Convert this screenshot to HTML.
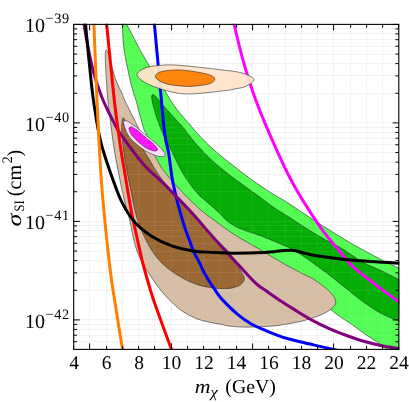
<!DOCTYPE html>
<html><head><meta charset="utf-8"><title>plot</title>
<style>
html,body{margin:0;padding:0;background:#fff;}
body{width:409px;height:402px;overflow:hidden;}
svg{display:block;will-change:transform;}
svg text{font-family:"Liberation Serif",serif;fill:#000;text-rendering:geometricPrecision;}
</style></head><body>
<svg width="409" height="402" viewBox="0 0 409 402">
<rect width="409" height="402" fill="#fff"/>
<defs><clipPath id="c"><rect x="73.2" y="23.7" width="326.1" height="326.3"/></clipPath></defs>
<path d="M89.50,24.4 V349.4 M106.50,24.4 V349.4 M122.50,24.4 V349.4 M138.50,24.4 V349.4 M154.50,24.4 V349.4 M171.50,24.4 V349.4 M187.50,24.4 V349.4 M203.50,24.4 V349.4 M219.50,24.4 V349.4 M236.50,24.4 V349.4 M252.50,24.4 V349.4 M268.50,24.4 V349.4 M285.50,24.4 V349.4 M301.50,24.4 V349.4 M317.50,24.4 V349.4 M333.50,24.4 V349.4 M350.50,24.4 V349.4 M366.50,24.4 V349.4 M382.50,24.4 V349.4 M73.7,93.50 H398.8 M73.7,75.50 H398.8 M73.7,63.50 H398.8 M73.7,54.50 H398.8 M73.7,46.50 H398.8 M73.7,39.50 H398.8 M73.7,33.50 H398.8 M73.7,28.50 H398.8 M73.7,122.50 H398.8 M73.7,191.50 H398.8 M73.7,174.50 H398.8 M73.7,162.50 H398.8 M73.7,152.50 H398.8 M73.7,144.50 H398.8 M73.7,138.50 H398.8 M73.7,132.50 H398.8 M73.7,127.50 H398.8 M73.7,221.50 H398.8 M73.7,290.50 H398.8 M73.7,272.50 H398.8 M73.7,260.50 H398.8 M73.7,251.50 H398.8 M73.7,243.50 H398.8 M73.7,236.50 H398.8 M73.7,230.50 H398.8 M73.7,225.50 H398.8 M73.7,319.50 H398.8 M73.7,341.50 H398.8 M73.7,335.50 H398.8 M73.7,329.50 H398.8 M73.7,324.50 H398.8" stroke="#f1f1f1" stroke-width="1" fill="none"/>
<g clip-path="url(#c)">
<path d="M121.8,15.2C122.5,15.2 125.0,21.3 126.7,24.6C128.5,27.9 130.5,31.5 132.3,34.9C134.1,38.3 135.4,41.4 137.3,44.9C139.2,48.4 141.5,52.7 143.5,56.1C145.5,59.5 146.7,61.5 149.1,65.4C151.5,69.3 155.1,74.9 158.0,79.6C160.9,84.3 164.5,90.1 166.7,93.7C168.9,97.3 169.3,98.5 171.1,101.2C172.9,103.9 175.2,107.2 177.3,109.9C179.4,112.6 181.4,114.8 183.5,117.3C185.6,119.8 187.7,122.1 190.0,124.8C192.3,127.5 194.1,129.9 197.4,133.5C200.7,137.1 205.8,142.4 209.9,146.3C214.1,150.2 218.1,153.6 222.3,157.0C226.5,160.4 231.7,164.4 235.0,167.0C238.3,169.6 239.1,170.3 242.4,172.8C245.7,175.3 250.8,179.1 254.9,182.0C259.1,184.9 263.1,187.7 267.3,190.4C271.5,193.1 276.6,196.2 280.0,198.2C283.4,200.2 281.1,198.5 287.4,202.6C293.7,206.7 307.5,216.1 318.0,222.8C328.5,229.5 341.0,237.3 350.6,243.0C360.2,248.7 369.5,253.4 375.9,256.8C382.3,260.2 384.9,261.5 388.8,263.4C392.7,265.3 395.5,266.5 399.0,268.3C402.5,270.1 408.2,257.7 410.0,274.0C411.8,290.3 411.7,350.7 410.0,366.0C408.3,381.3 402.7,367.7 400.0,366.0C397.3,364.3 396.2,358.8 394.0,356.0C391.8,353.2 389.4,351.4 386.5,349.0C383.6,346.6 380.6,344.4 376.9,341.8C373.2,339.2 368.5,336.6 364.4,333.7C360.2,330.8 355.8,327.3 352.0,324.6C348.2,321.9 344.7,320.0 341.4,317.6C338.1,315.2 335.2,313.4 332.0,310.5C328.8,307.6 326.3,304.2 322.0,300.0C317.7,295.8 311.3,289.6 306.0,285.0C300.7,280.4 295.5,276.3 290.0,272.5C284.5,268.7 279.1,265.8 272.8,262.0C266.5,258.2 259.2,254.0 252.4,250.0C245.6,246.0 238.9,242.3 232.0,238.0C225.1,233.7 218.1,229.3 211.2,224.0C204.3,218.7 197.1,211.9 190.8,206.0C184.5,200.1 178.3,194.3 173.5,188.5C168.7,182.7 165.6,177.1 162.0,171.0C158.4,164.9 154.6,158.2 152.0,152.0C149.4,145.8 147.8,137.9 146.4,134.0C145.0,130.1 145.4,134.4 143.7,128.7C141.9,123.0 137.5,105.6 135.9,100.0C134.3,94.4 135.0,98.2 134.1,95.0C133.2,91.8 131.3,85.3 130.3,81.1C129.3,76.9 128.6,72.9 128.0,70.0C127.4,67.1 127.1,66.7 126.5,63.5C125.9,60.4 124.9,55.2 124.3,51.1C123.7,47.0 123.3,43.1 123.0,38.7C122.7,34.3 122.6,28.5 122.4,24.6C122.2,20.7 121.1,15.2 121.8,15.2Z" fill="#54fd54" fill-opacity="1" stroke="#2a2a2a" stroke-width="0.6" stroke-linejoin="round"/>
<path d="M152.4,94.6C152.9,94.1 153.9,94.7 154.9,95.6C155.9,96.5 157.0,97.9 158.7,99.9C160.4,101.9 162.8,105.0 164.9,107.4C167.0,109.8 169.0,111.9 171.1,114.2C173.2,116.5 175.2,118.8 177.3,121.1C179.4,123.4 181.6,125.6 183.5,127.9C185.4,130.2 186.5,132.1 188.8,135.0C191.1,137.9 193.9,141.6 197.4,145.5C200.9,149.4 206.0,154.6 209.9,158.4C213.8,162.2 217.8,165.5 221.1,168.3C224.4,171.1 226.4,172.6 230.0,175.3C233.6,178.0 238.2,181.4 242.4,184.5C246.6,187.6 250.8,190.6 254.9,193.6C259.1,196.6 263.7,200.1 267.3,202.7C270.9,205.3 273.2,207.2 276.6,209.4C280.0,211.6 283.5,213.5 287.4,216.0C291.3,218.5 295.8,221.6 299.9,224.3C304.0,227.0 308.1,229.6 312.3,232.1C316.5,234.6 320.3,237.0 325.0,239.6C329.7,242.2 336.2,245.2 340.4,247.6C344.6,250.0 346.2,251.4 350.0,253.8C353.8,256.2 357.5,259.4 362.9,262.3C368.3,265.2 376.3,268.3 382.3,271.2C388.3,274.1 394.4,277.3 399.0,279.6C403.6,281.9 408.2,276.9 410.0,285.0C411.8,293.1 411.8,321.9 410.0,328.0C408.2,334.1 402.4,323.1 399.0,321.3C395.6,319.5 393.0,319.0 389.3,317.3C385.6,315.6 381.2,313.6 376.9,311.0C372.5,308.4 368.5,305.7 363.2,301.8C357.9,297.9 350.4,291.8 344.8,287.4C339.2,283.0 334.8,279.1 329.9,275.4C325.0,271.7 319.8,268.0 315.7,265.0C311.6,262.0 308.9,259.9 305.0,257.3C301.1,254.7 296.5,251.4 292.3,249.2C288.1,246.9 284.0,245.6 279.9,243.8C275.8,242.0 271.5,240.2 267.4,238.5C263.2,236.8 259.6,235.5 255.0,233.8C250.4,232.2 244.5,230.7 239.9,228.6C235.3,226.5 230.7,223.7 227.4,221.2C224.1,218.7 222.3,215.8 220.0,213.6C217.7,211.4 216.0,209.8 213.8,207.9C211.6,206.0 209.2,203.9 206.9,201.9C204.6,199.9 202.2,198.2 199.9,195.9C197.6,193.6 195.0,190.6 192.9,188.0C190.8,185.4 189.3,182.9 187.5,180.3C185.7,177.7 184.4,176.1 182.3,172.3C180.2,168.6 176.8,161.6 174.9,157.8C173.0,154.0 172.1,152.1 170.8,149.5C169.5,146.9 168.2,144.4 167.0,142.0C165.8,139.6 164.5,136.8 163.6,135.0C162.7,133.2 162.8,133.5 161.8,131.0C160.8,128.5 158.8,123.7 157.4,119.8C156.1,115.9 154.6,111.0 153.7,107.4C152.8,103.9 152.0,100.6 151.8,98.5C151.6,96.4 151.9,95.1 152.4,94.6Z" fill="#04ae04" fill-opacity="1" stroke="#2a2a2a" stroke-width="0.6" stroke-linejoin="round"/>
<path d="M105.7,50.6C105.3,51.6 105.3,54.2 105.3,57.4C105.3,60.6 105.6,65.8 105.8,70.0C106.0,74.2 106.3,78.1 106.6,82.3C106.9,86.5 107.0,90.4 107.4,95.0C107.8,99.6 108.3,104.2 109.0,110.0C109.7,115.8 110.6,123.3 111.5,130.0C112.4,136.7 113.2,143.3 114.3,150.0C115.4,156.7 116.8,163.6 118.0,170.0C119.2,176.4 120.5,182.5 121.8,188.7C123.1,194.9 124.9,202.6 126.1,207.3C127.3,212.0 128.2,213.7 129.0,217.0C129.8,220.3 130.4,223.6 131.2,227.4C132.0,231.2 132.8,236.0 133.8,239.9C134.8,243.8 135.8,247.7 137.0,251.0C138.2,254.3 139.4,257.2 140.8,260.0C142.2,262.8 143.8,265.3 145.3,267.8C146.8,270.3 148.2,272.2 150.0,274.9C151.8,277.6 154.1,281.3 156.2,284.2C158.3,287.1 160.3,289.8 162.4,292.3C164.5,294.8 166.4,296.9 168.7,299.2C171.0,301.5 173.9,304.2 176.2,306.2C178.5,308.2 179.3,309.2 182.4,311.2C185.5,313.2 190.8,316.2 194.9,318.0C199.1,319.8 203.1,320.7 207.3,321.7C211.5,322.7 216.3,323.5 220.0,324.2C223.7,324.9 225.6,325.6 229.7,326.1C233.8,326.6 239.4,327.0 244.3,327.1C249.2,327.2 253.9,327.0 259.0,326.8C264.1,326.6 270.3,326.3 275.0,325.8C279.7,325.3 282.2,324.9 287.1,324.0C292.0,323.1 298.5,322.1 304.2,320.5C309.9,318.9 316.7,316.7 321.3,314.7C325.9,312.7 329.2,310.8 331.6,308.6C334.0,306.4 336.1,304.4 335.8,301.6C335.5,298.8 333.4,295.5 329.9,291.9C326.4,288.3 319.0,282.8 314.9,280.0C310.8,277.2 308.8,276.9 305.0,275.0C301.2,273.1 296.5,270.6 292.3,268.3C288.1,266.1 284.0,263.9 279.9,261.5C275.8,259.1 271.5,256.5 267.4,254.0C263.2,251.5 259.6,249.3 255.0,246.6C250.4,243.9 244.5,240.8 239.9,238.0C235.3,235.2 231.6,232.8 227.4,229.9C223.2,227.0 218.4,223.3 215.0,220.8C211.6,218.3 209.4,216.7 206.9,214.8C204.4,212.9 202.2,211.2 199.9,209.2C197.6,207.2 195.2,204.9 192.9,202.7C190.6,200.5 188.2,198.1 186.0,195.9C183.8,193.7 181.8,191.4 180.0,189.5C178.2,187.6 176.4,185.9 175.0,184.3C173.6,182.7 172.5,181.4 171.4,180.1C170.3,178.8 169.5,177.8 168.4,176.4C167.3,175.0 165.9,173.5 164.7,171.9C163.4,170.3 162.0,168.4 160.9,166.7C159.8,165.0 158.8,163.2 157.9,161.5C157.0,159.8 158.4,161.9 155.3,156.6C152.2,151.3 142.8,135.5 139.4,129.6C136.0,123.7 136.3,123.6 135.0,121.0C133.7,118.4 133.2,117.5 131.5,114.0C129.8,110.5 126.1,103.3 124.6,100.0C123.1,96.7 123.2,96.2 122.3,94.1C121.4,92.0 120.2,89.9 119.1,87.3C117.9,84.7 116.5,81.7 115.4,78.6C114.3,75.5 113.3,72.0 112.3,68.6C111.3,65.2 110.3,60.9 109.5,58.0C108.7,55.1 108.1,52.7 107.5,51.5C106.9,50.3 106.1,49.6 105.7,50.6Z" fill="#d6bda5" fill-opacity="1" stroke="#2a2a2a" stroke-width="0.6" stroke-linejoin="round"/>
<path d="M122.5,118.5C121.8,120.6 121.6,128.8 121.8,134.0C122.0,139.2 122.7,144.0 123.5,150.0C124.3,156.0 125.5,163.6 126.7,170.0C127.9,176.4 129.2,182.5 130.5,188.7C131.8,194.9 133.0,202.1 134.2,207.3C135.4,212.5 136.5,216.3 137.6,220.0C138.7,223.7 139.7,226.4 141.0,229.5C142.3,232.6 143.7,235.4 145.2,238.5C146.7,241.6 148.5,244.9 150.2,247.8C151.9,250.7 153.5,253.2 155.5,255.8C157.5,258.4 159.6,260.8 162.0,263.2C164.4,265.6 167.0,267.8 170.0,270.0C173.0,272.2 176.7,274.6 180.0,276.6C183.3,278.6 186.7,280.3 190.0,281.8C193.3,283.3 196.7,284.4 200.0,285.4C203.3,286.3 206.7,287.0 210.0,287.5C213.3,288.0 216.5,288.4 220.0,288.5C223.5,288.6 227.4,288.8 230.8,288.2C234.2,287.6 238.4,286.2 240.7,284.6C242.9,283.0 244.1,280.6 244.3,278.6C244.5,276.6 243.3,275.7 241.7,272.7C240.1,269.7 237.3,264.5 234.8,260.7C232.3,256.9 230.4,253.9 226.8,249.8C223.2,245.7 218.9,242.1 213.2,236.0C207.5,229.9 198.3,219.2 192.8,213.0C187.3,206.8 184.5,203.8 180.0,199.0C175.5,194.2 169.0,187.5 165.8,184.0C162.6,180.5 162.3,179.8 160.9,177.9C159.5,176.0 158.4,174.6 157.2,172.7C156.0,170.8 154.6,168.6 153.5,166.7C152.4,164.8 151.5,163.2 150.5,161.5C149.5,159.8 148.7,158.5 147.5,156.6C146.3,154.7 145.6,153.6 143.5,150.0C141.4,146.4 137.9,139.8 135.0,135.0C132.1,130.2 128.1,124.2 126.0,121.5C123.9,118.8 123.2,116.4 122.5,118.5Z" fill="#9b6834" fill-opacity="1" stroke="#2a2a2a" stroke-width="0.6" stroke-linejoin="round"/>
<path d="M123.4,121.2C124.0,120.9 125.8,120.7 127.0,121.0C128.2,121.3 129.3,122.3 130.5,123.1C131.7,123.8 132.8,124.7 133.9,125.5C135.1,126.3 136.4,127.1 137.4,127.9C138.4,128.7 138.7,129.1 140.0,130.2C141.3,131.3 143.7,133.4 145.0,134.5C146.3,135.6 146.9,136.2 148.0,137.0C149.1,137.8 150.3,138.7 151.5,139.6C152.7,140.5 153.8,141.6 155.0,142.6C156.2,143.6 157.2,144.6 158.4,145.7C159.6,146.8 160.9,148.0 161.9,149.2C162.9,150.4 163.9,151.8 164.4,152.7C164.9,153.6 165.2,154.2 165.1,154.8C165.0,155.4 164.5,156.2 163.7,156.5C162.9,156.8 161.7,156.7 160.5,156.6C159.3,156.5 157.8,156.3 156.4,155.9C155.0,155.5 153.6,154.8 152.2,154.2C150.8,153.6 149.2,152.8 148.0,152.2C146.8,151.6 146.0,151.2 145.0,150.6C144.0,150.0 143.0,149.3 142.0,148.6C141.0,147.9 140.0,147.1 139.0,146.3C138.0,145.5 137.0,144.4 136.0,143.6C135.0,142.8 134.0,141.9 133.2,141.2C132.4,140.4 132.0,140.1 131.1,139.1C130.2,138.1 128.9,136.3 128.0,134.9C127.1,133.5 126.5,132.1 125.9,130.7C125.3,129.3 124.9,127.8 124.5,126.5C124.1,125.2 123.7,123.7 123.5,122.8C123.3,121.9 122.8,121.5 123.4,121.2Z" fill="#fbdcf9" fill-opacity="1" stroke="#2a2a2a" stroke-width="0.6" stroke-linejoin="round"/>
<path d="M129.1,127.8C129.5,127.2 130.8,126.7 131.8,126.9C132.8,127.1 134.3,128.3 135.3,129.0C136.3,129.7 136.9,129.9 138.0,130.8C139.1,131.7 140.3,133.0 142.0,134.4C143.7,135.8 146.3,138.1 147.9,139.4C149.5,140.7 150.5,141.2 151.5,142.0C152.5,142.8 153.0,143.3 153.9,144.3C154.8,145.3 156.3,147.0 156.9,147.9C157.5,148.8 157.6,149.3 157.4,149.8C157.2,150.3 156.7,151.0 155.7,151.1C154.7,151.2 152.8,150.7 151.5,150.3C150.2,149.9 149.1,149.4 148.0,148.9C146.9,148.4 146.4,148.3 145.0,147.3C143.6,146.3 140.8,144.1 139.5,143.0C138.2,141.9 137.9,141.7 137.0,140.8C136.1,139.9 134.9,138.7 133.9,137.6C132.9,136.5 131.8,135.4 131.1,134.2C130.3,133.0 129.7,131.3 129.4,130.2C129.1,129.1 128.7,128.3 129.1,127.8Z" fill="#ff12ff" fill-opacity="1" stroke="#2a2a2a" stroke-width="0.6" stroke-linejoin="round"/>
<path d="M89.50,24.4 V349.4 M106.50,24.4 V349.4 M122.50,24.4 V349.4 M138.50,24.4 V349.4 M154.50,24.4 V349.4 M171.50,24.4 V349.4 M187.50,24.4 V349.4 M203.50,24.4 V349.4 M219.50,24.4 V349.4 M236.50,24.4 V349.4 M252.50,24.4 V349.4 M268.50,24.4 V349.4 M285.50,24.4 V349.4 M301.50,24.4 V349.4 M317.50,24.4 V349.4 M333.50,24.4 V349.4 M350.50,24.4 V349.4 M366.50,24.4 V349.4 M382.50,24.4 V349.4 M73.7,93.50 H398.8 M73.7,75.50 H398.8 M73.7,63.50 H398.8 M73.7,54.50 H398.8 M73.7,46.50 H398.8 M73.7,39.50 H398.8 M73.7,33.50 H398.8 M73.7,28.50 H398.8 M73.7,122.50 H398.8 M73.7,191.50 H398.8 M73.7,174.50 H398.8 M73.7,162.50 H398.8 M73.7,152.50 H398.8 M73.7,144.50 H398.8 M73.7,138.50 H398.8 M73.7,132.50 H398.8 M73.7,127.50 H398.8 M73.7,221.50 H398.8 M73.7,290.50 H398.8 M73.7,272.50 H398.8 M73.7,260.50 H398.8 M73.7,251.50 H398.8 M73.7,243.50 H398.8 M73.7,236.50 H398.8 M73.7,230.50 H398.8 M73.7,225.50 H398.8 M73.7,319.50 H398.8 M73.7,341.50 H398.8 M73.7,335.50 H398.8 M73.7,329.50 H398.8 M73.7,324.50 H398.8" stroke="#ffffff" stroke-opacity="0.07" stroke-width="1" fill="none"/>
<path d="M232.5,18.0C232.8,19.0 232.2,16.9 234.0,24.0C235.8,31.1 239.4,47.8 243.2,60.8C246.9,73.8 251.2,87.8 256.5,102.0C261.8,116.2 268.7,132.2 274.8,145.9C280.9,159.6 286.0,171.0 293.2,184.0C300.4,197.0 310.8,213.2 318.0,223.8C325.2,234.4 330.6,240.3 336.3,247.3C342.0,254.3 346.2,260.0 352.4,266.0C358.6,272.0 365.9,277.2 373.5,283.1C381.1,289.0 392.8,297.3 398.2,301.3C403.6,305.3 404.7,306.1 406.0,307.0" fill="none" stroke="#ff00ff" stroke-width="3" stroke-linejoin="round"/>
<path d="M154.0,18.0C154.1,19.0 153.3,11.9 154.4,24.0C155.5,36.1 158.8,72.1 160.5,90.6C162.2,109.1 163.5,124.4 164.9,135.0C166.3,145.6 167.4,145.8 168.8,154.0C170.2,162.2 170.9,172.9 173.2,184.0C175.5,195.1 179.3,209.8 182.6,220.7C185.9,231.6 190.7,243.6 192.8,249.3C194.9,255.0 194.2,252.6 195.4,255.0C196.6,257.4 198.4,260.5 200.0,263.7C201.6,266.9 202.2,269.3 204.9,274.0C207.6,278.7 213.3,287.4 216.2,291.7C219.1,296.0 218.8,295.9 222.3,299.6C225.8,303.3 232.1,309.7 237.0,313.8C241.9,317.9 246.8,321.4 251.7,324.2C256.6,327.0 262.4,329.1 266.3,330.8C270.2,332.5 271.5,333.0 275.0,334.3C278.5,335.6 282.2,337.1 287.1,338.5C292.0,339.9 298.5,341.4 304.2,342.8C309.9,344.2 316.6,345.5 321.3,346.6C326.0,347.7 328.6,348.4 332.5,349.3C336.4,350.2 342.9,351.6 345.0,352.0" fill="none" stroke="#0000ff" stroke-width="3" stroke-linejoin="round"/>
<path d="M82.9,18.0C83.1,19.0 83.3,20.7 83.9,24.0C84.5,27.3 85.5,33.7 86.3,38.0C87.1,42.3 87.9,46.3 88.6,50.0C89.3,53.7 90.0,56.7 90.7,60.0C91.4,63.3 92.2,66.7 93.0,70.0C93.8,73.3 94.8,76.7 95.8,80.0C96.8,83.3 98.0,86.7 99.2,90.0C100.4,93.3 101.6,96.7 103.0,100.0C104.4,103.3 106.0,106.7 107.6,110.0C109.2,113.3 110.9,116.6 112.6,120.0C114.3,123.4 116.0,126.9 118.0,130.2C120.0,133.5 122.2,136.3 124.6,139.6C127.0,142.9 129.6,146.6 132.2,150.0C134.8,153.4 137.5,157.0 139.9,160.0C142.3,163.0 144.3,165.4 146.6,167.8C148.9,170.2 151.1,172.0 153.5,174.2C155.9,176.4 159.0,179.2 160.9,181.0C162.8,182.8 161.2,181.2 164.8,184.8C168.4,188.4 177.4,197.6 182.2,202.6C187.0,207.6 188.1,208.7 193.4,214.6C198.7,220.5 207.0,230.3 213.8,238.0C220.6,245.7 230.1,255.8 234.4,260.5C238.7,265.2 236.1,262.2 239.6,266.0C243.1,269.8 250.9,278.7 255.6,283.1C260.3,287.5 263.9,289.3 268.0,292.2C272.1,295.1 275.4,297.4 280.0,300.4C284.6,303.4 290.2,307.0 295.7,310.4C301.2,313.8 307.1,317.5 312.8,320.6C318.5,323.7 325.1,326.7 329.9,328.9C334.7,331.1 335.9,331.6 341.4,333.6C346.9,335.6 355.7,338.9 362.8,341.0C369.9,343.1 378.2,345.1 384.2,346.3C390.2,347.5 395.5,347.9 399.0,348.4C402.5,348.9 404.0,349.1 405.0,349.2" fill="none" stroke="#800080" stroke-width="3" stroke-linejoin="round"/>
<path d="M106.2,18.0C106.3,19.0 105.9,16.7 106.6,24.0C107.3,31.3 109.1,49.0 110.4,62.0C111.7,75.0 112.9,88.2 114.5,102.0C116.1,115.8 118.6,133.7 120.2,145.0C121.8,156.3 123.1,162.7 124.3,170.0C125.5,177.3 126.4,182.5 127.4,188.7C128.5,194.9 129.7,202.3 130.6,207.3C131.5,212.3 131.7,213.1 132.8,218.5C134.0,223.9 135.8,232.2 137.5,240.0C139.2,247.8 141.2,257.0 143.3,265.0C145.4,273.0 147.8,281.3 149.8,288.0C151.8,294.7 151.7,294.8 155.3,305.0C158.9,315.2 168.2,340.7 171.3,349.0C174.4,357.3 173.2,354.0 173.6,355.0" fill="none" stroke="#ff0000" stroke-width="3" stroke-linejoin="round"/>
<path d="M84.8,18.0C84.9,19.0 84.8,16.7 85.5,24.0C86.2,31.3 87.8,49.0 89.2,62.0C90.6,75.0 91.7,88.5 93.7,102.0C95.7,115.5 97.5,129.1 101.0,142.8C104.5,156.5 110.8,173.7 114.5,184.0C118.2,194.3 119.5,197.9 123.0,204.4C126.5,210.9 130.5,217.5 135.3,222.8C140.1,228.2 145.8,232.6 152.0,236.5C158.2,240.4 165.6,243.8 172.4,246.2C179.2,248.6 186.0,250.0 192.8,251.0C199.6,252.0 206.3,252.0 213.2,252.4C220.1,252.8 225.4,253.2 234.0,253.2C242.6,253.2 255.1,252.9 264.6,252.4C274.1,251.9 284.2,250.1 291.0,250.3C297.8,250.5 300.9,252.5 305.4,253.4C309.9,254.3 310.5,254.8 318.0,255.9C325.5,257.0 337.1,258.8 350.6,260.0C364.1,261.2 389.9,262.6 399.0,263.2C408.1,263.8 404.0,263.4 405.0,263.5" fill="none" stroke="#000000" stroke-width="3" stroke-linejoin="round"/>
<path d="M93.6,18.0C93.6,19.0 93.3,10.0 93.9,24.0C94.5,38.0 95.8,75.3 97.1,102.0C98.4,128.7 99.5,156.7 101.6,184.0C103.7,211.3 107.3,245.2 109.7,266.0C112.1,286.8 113.9,295.0 116.0,308.8C118.1,322.6 121.2,341.3 122.5,349.0C123.8,356.7 123.3,354.0 123.5,355.0" fill="none" stroke="#ff8000" stroke-width="3" stroke-linejoin="round"/>
<path d="M137.0,74.7C137.0,72.2 141.8,69.3 145.9,67.7C150.0,66.1 156.5,65.6 161.8,65.2C167.1,64.8 169.8,64.7 177.7,65.2C185.6,65.7 201.8,67.6 209.5,68.4C217.2,69.2 219.8,69.7 224.0,70.2C228.2,70.7 231.7,70.9 235.0,71.5C238.3,72.1 241.5,72.8 244.0,73.6C246.5,74.4 248.6,75.5 250.2,76.3C251.8,77.1 252.7,77.6 253.3,78.2C254.0,78.8 254.2,79.1 254.1,79.7C254.0,80.3 253.6,81.0 252.9,81.7C252.2,82.4 251.7,83.0 250.2,83.9C248.7,84.8 246.5,86.3 244.0,87.1C241.5,87.9 238.1,88.3 235.0,88.9C231.9,89.5 232.3,89.8 225.4,90.6C218.5,91.4 201.6,93.4 193.6,93.8C185.6,94.2 183.0,93.8 177.7,93.1C172.4,92.3 167.1,91.0 161.8,89.3C156.5,87.6 150.0,85.4 145.9,83.0C141.8,80.6 137.0,77.2 137.0,74.7Z" fill="#ffe3ca" fill-opacity="0.94" stroke="#2a2a2a" stroke-width="0.6" stroke-linejoin="round"/>
<path d="M155.4,75.7C155.9,74.2 158.1,72.5 161.8,71.5C165.5,70.5 172.4,69.9 177.7,69.9C183.0,69.9 188.3,70.7 193.6,71.5C198.9,72.3 206.0,73.5 209.5,74.8C213.0,76.0 214.8,77.5 214.8,79.0C214.8,80.5 213.0,82.5 209.5,83.7C206.0,84.9 197.8,85.8 193.6,86.2C189.3,86.6 188.2,86.5 184.0,86.2C179.8,85.9 172.3,85.2 168.1,84.2C163.9,83.2 160.7,81.8 158.6,80.4C156.5,79.0 154.9,77.2 155.4,75.7Z" fill="#ff850e" fill-opacity="1" stroke="#2a2a2a" stroke-width="0.6" stroke-linejoin="round"/>
</g>
<path d="M73.60,349.4 v-3.4 M73.60,24.4 v3.4 M89.60,349.4 v-6 M89.60,24.4 v6 M106.60,349.4 v-3.4 M106.60,24.4 v3.4 M122.60,349.4 v-3.4 M122.60,24.4 v3.4 M138.60,349.4 v-3.4 M138.60,24.4 v3.4 M154.60,349.4 v-3.4 M154.60,24.4 v3.4 M171.60,349.4 v-6 M171.60,24.4 v6 M187.60,349.4 v-3.4 M187.60,24.4 v3.4 M203.60,349.4 v-3.4 M203.60,24.4 v3.4 M219.60,349.4 v-3.4 M219.60,24.4 v3.4 M236.60,349.4 v-3.4 M236.60,24.4 v3.4 M252.60,349.4 v-6 M252.60,24.4 v6 M268.60,349.4 v-3.4 M268.60,24.4 v3.4 M285.60,349.4 v-3.4 M285.60,24.4 v3.4 M301.60,349.4 v-3.4 M301.60,24.4 v3.4 M317.60,349.4 v-3.4 M317.60,24.4 v3.4 M333.60,349.4 v-6 M333.60,24.4 v6 M350.60,349.4 v-3.4 M350.60,24.4 v3.4 M366.60,349.4 v-3.4 M366.60,24.4 v3.4 M382.60,349.4 v-3.4 M382.60,24.4 v3.4 M398.60,349.4 v-3.4 M398.60,24.4 v3.4 M73.7,24.40 h6.2 M398.8,24.40 h-6.2 M73.7,122.90 h6.2 M398.8,122.90 h-6.2 M73.7,93.25 h3.4 M398.8,93.25 h-3.4 M73.7,75.90 h3.4 M398.8,75.90 h-3.4 M73.7,63.60 h3.4 M398.8,63.60 h-3.4 M73.7,54.05 h3.4 M398.8,54.05 h-3.4 M73.7,46.25 h3.4 M398.8,46.25 h-3.4 M73.7,39.66 h3.4 M398.8,39.66 h-3.4 M73.7,33.95 h3.4 M398.8,33.95 h-3.4 M73.7,28.91 h3.4 M398.8,28.91 h-3.4 M73.7,221.40 h6.2 M398.8,221.40 h-6.2 M73.7,191.75 h3.4 M398.8,191.75 h-3.4 M73.7,174.40 h3.4 M398.8,174.40 h-3.4 M73.7,162.10 h3.4 M398.8,162.10 h-3.4 M73.7,152.55 h3.4 M398.8,152.55 h-3.4 M73.7,144.75 h3.4 M398.8,144.75 h-3.4 M73.7,138.16 h3.4 M398.8,138.16 h-3.4 M73.7,132.45 h3.4 M398.8,132.45 h-3.4 M73.7,127.41 h3.4 M398.8,127.41 h-3.4 M73.7,319.90 h6.2 M398.8,319.90 h-6.2 M73.7,290.25 h3.4 M398.8,290.25 h-3.4 M73.7,272.90 h3.4 M398.8,272.90 h-3.4 M73.7,260.60 h3.4 M398.8,260.60 h-3.4 M73.7,251.05 h3.4 M398.8,251.05 h-3.4 M73.7,243.25 h3.4 M398.8,243.25 h-3.4 M73.7,236.66 h3.4 M398.8,236.66 h-3.4 M73.7,230.95 h3.4 M398.8,230.95 h-3.4 M73.7,225.91 h3.4 M398.8,225.91 h-3.4 M73.7,341.75 h3.4 M398.8,341.75 h-3.4 M73.7,335.16 h3.4 M398.8,335.16 h-3.4 M73.7,329.45 h3.4 M398.8,329.45 h-3.4 M73.7,324.41 h3.4 M398.8,324.41 h-3.4" stroke="#000" stroke-width="1.0" fill="none"/>
<rect x="73.7" y="24.4" width="325.1" height="325" fill="none" stroke="#000" stroke-width="1.1"/>
<text x="74.0" y="368.7" font-size="19.5" text-anchor="middle">4</text>
<text x="106.5" y="368.7" font-size="19.5" text-anchor="middle">6</text>
<text x="139.0" y="368.7" font-size="19.5" text-anchor="middle">8</text>
<text x="171.5" y="368.7" font-size="19.5" text-anchor="middle">10</text>
<text x="204.0" y="368.7" font-size="19.5" text-anchor="middle">12</text>
<text x="236.5" y="368.7" font-size="19.5" text-anchor="middle">14</text>
<text x="269.0" y="368.7" font-size="19.5" text-anchor="middle">16</text>
<text x="301.5" y="368.7" font-size="19.5" text-anchor="middle">18</text>
<text x="334.0" y="368.7" font-size="19.5" text-anchor="middle">20</text>
<text x="366.5" y="368.7" font-size="19.5" text-anchor="middle">22</text>
<text x="399.1" y="368.7" font-size="19.5" text-anchor="middle">24</text>
<text x="24.9" y="32.0" font-size="20">10<tspan font-size="14.3" dy="-9" dx="0.7" letter-spacing="0.6">−39</tspan></text>
<text x="24.9" y="130.5" font-size="20">10<tspan font-size="14.3" dy="-9" dx="0.7" letter-spacing="0.6">−40</tspan></text>
<text x="24.9" y="229.0" font-size="20">10<tspan font-size="14.3" dy="-9" dx="0.7" letter-spacing="0.6">−41</tspan></text>
<text x="24.9" y="327.5" font-size="20">10<tspan font-size="14.3" dy="-9" dx="0.7" letter-spacing="0.6">−42</tspan></text>
<text transform="translate(194.7,393.3) scale(1.12,1)" font-size="19.4" font-style="italic">m</text>
<text transform="translate(210.6,396.8) scale(1.08,1)" font-size="15" font-style="italic">χ</text>
<text x="225.3" y="393.3" font-size="19.8">(GeV)</text>
<g transform="translate(20.6,227) rotate(-90)" font-size="19.8"><text transform="translate(0.6,0) scale(1.26,1)" x="0" y="0" font-size="20.6" font-style="italic">σ</text><text transform="translate(15.5,3.1) scale(0.87,1)" font-size="14.3">SI</text><text x="30.8" y="0" font-size="20.2">(cm</text><text x="63.4" y="-8.8" font-size="14.5">2</text><text x="70.6" y="0" font-size="20.2">)</text></g>
</svg>
</body></html>
